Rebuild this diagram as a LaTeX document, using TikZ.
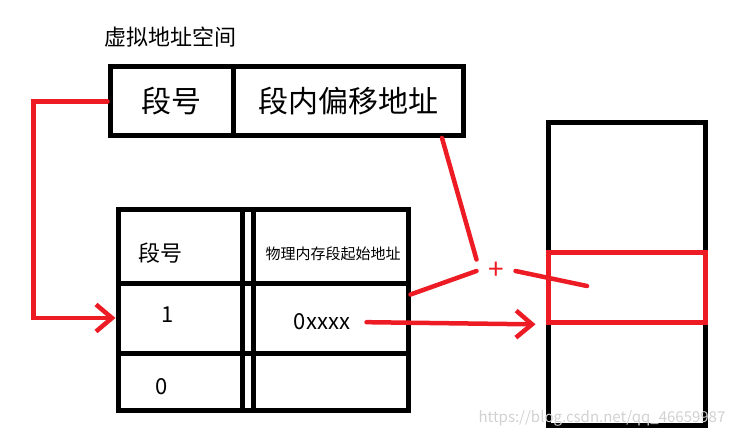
\documentclass[tikz,border=0pt]{standalone}
\usepackage{fontspec}
\setmainfont{Noto Sans CJK SC}
\usetikzlibrary{positioning, calc, arrows.meta}
\definecolor{myred}{RGB}{237,28,36}

\begin{document}
\begin{tikzpicture}[x=1pt,y=-1pt,line width=5pt]
  \tikzstyle{cell}=[draw,rectangle,inner sep=0pt]
  \tikzstyle{link}=[draw=myred,line width=4.5pt,line cap=round]
  \tikzstyle{tip}=[-{Straight Barb[length=16pt,width=27pt]}]
  \tikzstyle{bigtext}=[inner sep=0pt,font=\fontsize{30}{30}\selectfont]
  \tikzstyle{midtext}=[inner sep=0pt,font=\fontsize{22}{22}\selectfont]
  \tikzstyle{smalltext}=[inner sep=0pt,font=\fontsize{15}{15}\selectfont]
  \useasboundingbox (0,0) rectangle (733,438);

  % virtual address
  \node[midtext] (title) at (170,37) {虚拟地址空间};
  \node[cell,bigtext,minimum width=123pt,minimum height=69pt] (vseg) at (171.5,101.5) {段号};
  \node[cell,bigtext,minimum width=230pt,minimum height=69pt] (voff) at (348,101.5) {段内偏移地址};

  % segment table
  \foreach \y/\h/\r in {246.5/73/0, 318/70/1, 381.5/57/2} {
    \node[cell,minimum width=124pt,minimum height=\h pt] (a\r) at (180,\y) {};
    \node[cell,minimum width=11pt,minimum height=\h pt] (b\r) at (247.5,\y) {};
    \node[cell,minimum width=155pt,minimum height=\h pt] (c\r) at (330.5,\y) {};
  }
  \node[midtext] (hdr) at (160,253) {段号};
  \node[midtext] (one) at (168,315) {1};
  \node[midtext] (zero) at (162,387) {0};
  \node[smalltext] (base) at (333,254) {物理内存段起始地址};
  \node[midtext] (addr) at (322,322) {0xxxx};

  % physical memory
  \node[cell,minimum width=157pt,minimum height=302pt] (mem) at (626.5,274) {};
  \node[cell,draw=myred,fill=white,minimum width=157pt,minimum height=69pt] (memseg) at (626.5,287.5) {};

  \node[text=myred,inner sep=0pt,minimum width=34pt,minimum height=18pt,
        font=\fontsize{28}{28}\selectfont] (plus) at (496,271) {+};
  \coordinate (offout) at (442,138);
  \coordinate (segin) at (587,286);

  \draw[link,tip] (vseg.west) -- ++(-74,0) |- (a1.west);
  \draw[link] (offout) -- (plus.north west);
  \draw[link] ($(c1.north east)+(0,14)$) -- (plus.west);
  \draw[link] (plus.east) -- (segin);
  \draw[link,tip,shorten <=14pt,shorten >=10pt] (addr.east) -- (memseg.south west);

  \node[text=black!18,font=\fontsize{15}{15}\selectfont] (mark) at (602,418) {https://blog.csdn.net/qq\_46659987};
\end{tikzpicture}
\end{document}
